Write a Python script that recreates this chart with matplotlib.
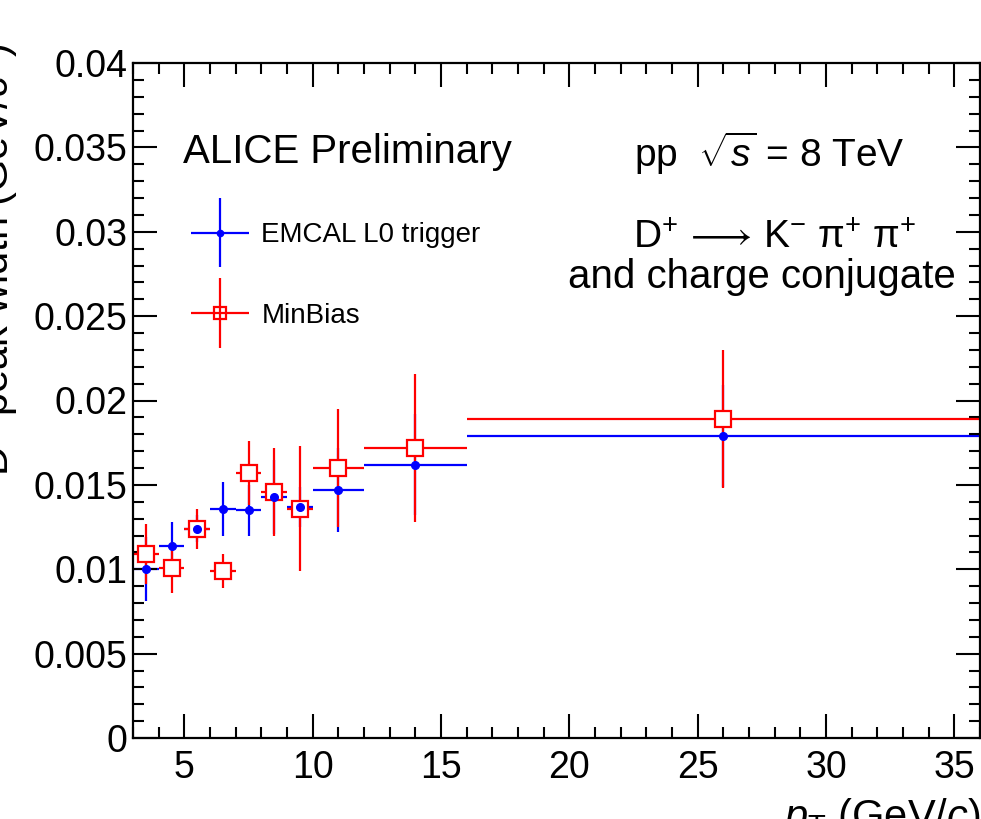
import matplotlib
matplotlib.use('Agg')
import matplotlib.pyplot as plt
from matplotlib.ticker import MultipleLocator, FuncFormatter
from matplotlib.legend_handler import HandlerErrorbar
import numpy as np

plt.rcParams['font.family'] = ['Liberation Sans', 'DejaVu Sans']
plt.rcParams['mathtext.fontset'] = 'custom'
plt.rcParams['mathtext.rm'] = 'Liberation Sans'
plt.rcParams['mathtext.it'] = 'Liberation Sans:italic'
plt.rcParams['mathtext.sf'] = 'Liberation Sans'

# pT bins (GeV/c)
bin_lo = [3, 4, 5, 6, 7, 8, 9, 10, 12, 16]
bin_hi = [4, 5, 6, 7, 8, 9, 10, 12, 16, 36]

# D+ peak width (GeV/c^2)
emcal_w   = [0.0100, 0.0114, 0.0124, 0.0136, 0.0135, 0.0143, 0.0137, 0.0147, 0.0162, 0.0179]
emcal_err = [0.0019, 0.0014, 0.0008, 0.0016, 0.0015, 0.0022, 0.0012, 0.0025, 0.0030, 0.0030]
mb_w      = [0.0109, 0.0101, 0.0124, 0.0099, 0.0157, 0.0146, 0.0136, 0.0160, 0.0172, 0.0189]
mb_err    = [0.0018, 0.0015, 0.0012, 0.0010, 0.0019, 0.0026, 0.0037, 0.0035, 0.0044, 0.0041]

lo = np.array(bin_lo, float)
hi = np.array(bin_hi, float)
pt = (lo + hi) / 2
pt_err = (hi - lo) / 2

fig = plt.figure(figsize=(9.81, 8.19), dpi=100)
ax = fig.add_axes([133/981, 81/819, 847/981, 675/819])

# blue bars under the red ones, blue dots on top (as in the ROOT canvas)
ax.errorbar(pt, emcal_w, xerr=pt_err, yerr=emcal_err, fmt='none',
            ecolor='blue', elinewidth=1.6, capsize=0, zorder=1)
ax.errorbar(pt, mb_w, xerr=pt_err, yerr=mb_err, fmt='none', ecolor='red',
            elinewidth=1.6, capsize=0, zorder=2)
ax.plot(pt, mb_w, 's', ms=12, mfc='white', mec='red', mew=1.6, zorder=3)
ax.plot(pt, emcal_w, 'o', color='blue', ms=5.5, zorder=4)

# legend proxies
h_blue = ax.errorbar([], [], xerr=[], yerr=[], fmt='o', color='blue', ms=4.5,
                     elinewidth=1.6, capsize=0)
h_red = ax.errorbar([], [], xerr=[], yerr=[], fmt='s', color='red', ms=9,
                    mfc='none', mec='red', mew=1.6, elinewidth=1.6, capsize=0)

ax.set_xlim(3, 36)
ax.set_ylim(0, 0.04)
ax.xaxis.set_major_locator(MultipleLocator(5))
ax.xaxis.set_minor_locator(MultipleLocator(1))
ax.yaxis.set_major_locator(MultipleLocator(0.005))
ax.yaxis.set_minor_locator(MultipleLocator(0.001))
ax.yaxis.set_major_formatter(FuncFormatter(lambda v, p: '%g' % round(v, 4)))
ax.tick_params(which='both', direction='in', top=True, right=True, width=1.5)
ax.tick_params(which='major', length=17)
ax.tick_params(which='minor', length=8)
ax.tick_params(axis='y', labelsize=27, pad=4)
ax.tick_params(axis='x', labelsize=27, pad=9)
for s in ax.spines.values():
    s.set_linewidth(1.6)

ax.text(0.059, 0.852, 'ALICE Preliminary', transform=ax.transAxes,
        fontsize=29, ha='left', va='baseline')
ax.text(0.751, 0.846, r'pp  $\sqrt{s}$ = 8 TeV', transform=ax.transAxes,
        fontsize=28, ha='center', va='baseline')
ax.text(0.758, 0.726, r'D$^{+}\,\longrightarrow\,$K$^{-}$ π$^{+}$ π$^{+}$',
        transform=ax.transAxes, fontsize=28, ha='center', va='baseline')
ax.text(0.742, 0.667, 'and charge conjugate', transform=ax.transAxes,
        fontsize=29, ha='center', va='baseline')

hm = {h_blue: HandlerErrorbar(xerr_size=1.05, yerr_size=1.25),
      h_red: HandlerErrorbar(xerr_size=1.05, yerr_size=1.25)}
ax.legend([h_blue, h_red], ['EMCAL L0 trigger', 'MinBias'], handler_map=hm,
          loc='upper left', bbox_to_anchor=(0.068, 0.764),
          frameon=False, fontsize=20, handlelength=2.1, handletextpad=0.45,
          labelspacing=1.96, borderpad=0, borderaxespad=0)

fig.text(20/981, 1 - 43/819, r'D$^{+}$ peak width (GeV/$c^{2}$)', rotation=90,
         fontsize=30, ha='right', va='top')
fig.text(0.9995, 1 - 796/819, r'$p_{\rm T}$ (GeV/$c$)', fontsize=30,
         ha='right', va='top')

fig.savefig('out.png', dpi=100)
